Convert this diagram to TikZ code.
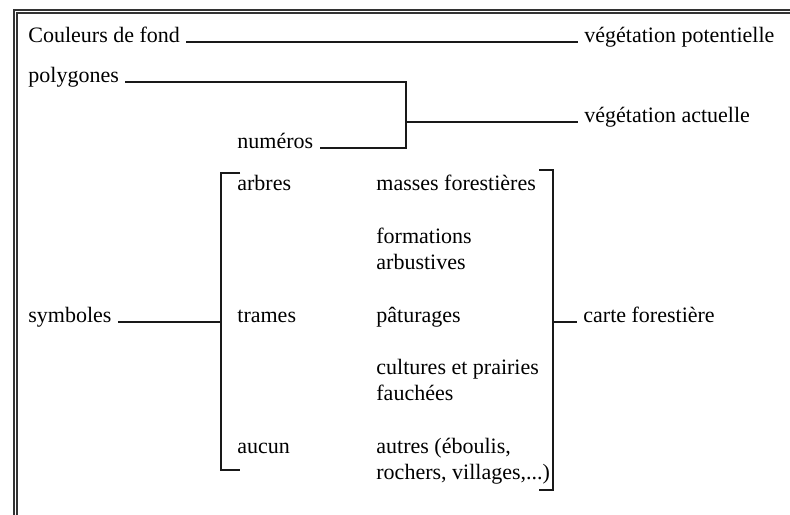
\documentclass[tikz,border=0pt]{standalone}
\usepackage{fontspec}
\setmainfont{Liberation Serif}
\usepackage{tikz}
\usetikzlibrary{positioning}
\tikzset{
  label_text/.style={draw = none, anchor = base west, inner xsep = 3pt, inner ysep = 0pt, font = \fontsize{11}{13}\selectfont},
  label_block/.style={label_text, align = left},
  link_line/.style={line width = 0.6pt, color = black!90},
  frame_line/.style={double = white, line width = 0.6pt, double distance = 0.9pt, color = black!80}}
\begin{document}
\begin{tikzpicture}[x = 0.5pt, y = -0.5pt]

\useasboundingbox (0,0) rectangle (790,514);
\clip (0,0) rectangle (790,514);

%%% frame
\draw[frame_line] (15.5,11.5) rectangle (820,540);

%%% first column
\node[label_text] at (22,42) (couleurs) {Couleurs de fond};
\node[label_text] at (22,82) (polygones) {polygones};
\node[label_text] at (231,148) (numeros) {numéros};
\node[label_text] at (22,322) (symboles) {symboles};

%%% second column
\node[label_text] at (231,190) (arbres) {arbres};
\node[label_text] at (231,322) (trames) {trames};
\node[label_text] at (231,453) (aucun) {aucun};

%%% third column (two-line blocks sit on their last line)
\node[label_text] at (370,190) (masses) {masses forestières};
\node[label_block] at (370,269) (formations) {formations\\arbustives};
\node[label_text] at (370,322) (paturages) {pâturages};
\node[label_block] at (370,400) (cultures) {cultures et prairies\\fauchées};
\node[label_block] at (370,479) (autres) {autres (éboulis,\\rochers, villages,...)};

%%% results
\node[label_text] at (578,42) (vegpot) {végétation potentielle};
\node[label_text] at (578,122) (vegact) {végétation actuelle};
\node[label_text] at (577,322) (carte) {carte forestière};

%%% bracket corners
\coordinate (veg) at (406,122);
\coordinate (lb_top) at (221,173);
\coordinate (lb_bot) at (221,470);
\coordinate (lb_mid) at (221,322);
\coordinate (rb_top) at (553,170);
\coordinate (rb_bot) at (553,490);
\coordinate (rb_mid) at (553,322);

%%% connectors
\draw[link_line] (couleurs.base east) -- (vegpot.base west);
\draw[link_line] (polygones.base east) -| (veg) |- (numeros.base east);
\draw[link_line] (veg) -- (vegact.base west);
\draw[link_line] (symboles.base east) -- (lb_mid);
\draw[link_line] ([xshift = 9.5pt]lb_top) -- (lb_top) -- (lb_bot) -- ([xshift = 9.5pt]lb_bot);
\draw[link_line] ([xshift = -7pt]rb_top) -- (rb_top) -- (rb_bot) -- ([xshift = -7pt]rb_bot);
\draw[link_line] (rb_mid) -- (carte.base west);

\end{tikzpicture}
\end{document}
